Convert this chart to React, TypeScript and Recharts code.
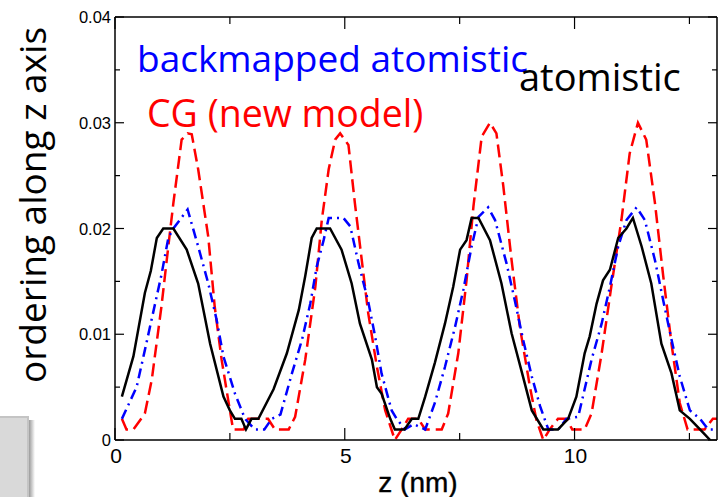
import React from "react";
import { Line, LineChart, XAxis, YAxis } from "recharts";

const W = 724;
const H = 497;

// atomistic (black solid)
const atomZ = [
  0.15, 0.4, 0.65, 0.78, 0.91, 1.05, 1.27, 1.56, 1.81, 2.07, 2.36, 2.5, 2.61, 2.75, 2.85, 2.97, 3.12, 3.45,
  3.74, 4.0, 4.14, 4.28, 4.39, 4.68, 4.93, 5.15, 5.33, 5.59, 5.7, 5.8, 5.99, 6.09, 6.3, 6.46, 6.6, 6.75,
  6.96, 7.18, 7.36, 7.51, 7.65, 7.76, 7.91, 8.16, 8.41, 8.63, 8.86, 9.07, 9.32, 9.64, 9.86, 10.04, 10.22,
  10.33, 10.48, 10.62, 10.77, 10.95, 11.13, 11.27, 11.46, 11.67, 11.89, 12.11, 12.29, 12.51, 12.73, 12.95,
];
const atomVal = [
  0.0041, 0.0079, 0.0139, 0.016, 0.0191, 0.02, 0.02, 0.018, 0.0148, 0.0091, 0.0041, 0.0028, 0.002, 0.002,
  0.001, 0.002, 0.002, 0.0048, 0.0082, 0.0123, 0.0155, 0.0191, 0.02, 0.02, 0.018, 0.0148, 0.011, 0.0076,
  0.005, 0.0044, 0.002, 0.001, 0.001, 0.002, 0.002, 0.0041, 0.0073, 0.011, 0.0145, 0.018, 0.0189, 0.021,
  0.021, 0.0189, 0.0148, 0.0101, 0.0063, 0.0028, 0.001, 0.001, 0.002, 0.0041, 0.0082, 0.0098, 0.0129,
  0.0151, 0.0161, 0.0191, 0.02, 0.021, 0.0183, 0.0148, 0.0091, 0.0063, 0.0028, 0.002, 0.001, 0.0,
];

// backmapped atomistic (blue dash-dot)
const backZ = [
  0.15, 0.47, 0.65, 1.01, 1.16, 1.27, 1.58, 1.81, 2.03, 2.21, 2.36, 2.61, 2.83, 3.04, 3.25, 3.41, 3.6, 3.85,
  4.07, 4.25, 4.39, 4.54, 4.65, 4.97, 5.12, 5.3, 5.51, 5.66, 5.8, 6.02, 6.13, 6.31, 6.5, 6.75, 6.96, 7.18,
  7.4, 7.58, 7.76, 7.91, 8.12, 8.27, 8.52, 8.7, 8.88, 9.07, 9.25, 9.43, 9.65, 9.82, 10.08, 10.37, 10.59,
  10.77, 10.95, 11.13, 11.35, 11.53, 11.75, 11.93, 12.11, 12.29, 12.51, 12.73, 12.91, 13.05,
];
const backVal = [
  0.002, 0.005, 0.0085, 0.0156, 0.0191, 0.02, 0.0218, 0.0183, 0.0148, 0.0114, 0.0079, 0.0044, 0.002, 0.001,
  0.001, 0.002, 0.0024, 0.0063, 0.0095, 0.0129, 0.0164, 0.0189, 0.021, 0.021, 0.0202, 0.0167, 0.0131,
  0.0098, 0.0063, 0.0028, 0.002, 0.001, 0.0015, 0.001, 0.0035, 0.0069, 0.0107, 0.0142, 0.0183, 0.0211,
  0.022, 0.0208, 0.0167, 0.0132, 0.0095, 0.006, 0.0032, 0.001, 0.001, 0.002, 0.0022, 0.0076, 0.011, 0.0145,
  0.0183, 0.0208, 0.022, 0.0208, 0.017, 0.0132, 0.0095, 0.006, 0.0028, 0.002, 0.001, 0.001,
];

// CG new model (red dashed)
const cgZ = [
  0.15, 0.25, 0.4, 0.65, 0.8, 1.01, 1.16, 1.27, 1.45, 1.58, 1.67, 1.81, 2.03, 2.17, 2.32, 2.5, 2.57, 2.8,
  2.9, 3.33, 3.48, 3.78, 3.92, 4.14, 4.36, 4.5, 4.65, 4.79, 4.9, 5.08, 5.22, 5.37, 5.51, 5.7, 5.88, 6.09,
  6.24, 6.38, 6.6, 6.75, 7.11, 7.25, 7.47, 7.65, 7.8, 7.98, 8.16, 8.3, 8.45, 8.63, 8.81, 9.03, 9.17, 9.32,
  9.46, 9.64, 9.82, 9.95, 10.22, 10.37, 10.59, 10.8, 11.02, 11.2, 11.38, 11.56, 11.75, 11.93, 12.11, 12.29,
  12.46, 12.83, 13.01, 13.1,
];
const cgVal = [
  0.002, 0.001, 0.001, 0.0025, 0.0057, 0.0126, 0.0183, 0.0224, 0.0284, 0.029, 0.0289, 0.0256, 0.0192,
  0.0126, 0.0076, 0.0028, 0.001, 0.001, 0.002, 0.002, 0.001, 0.001, 0.0022, 0.0076, 0.0145, 0.0208, 0.0256,
  0.0284, 0.029, 0.0279, 0.0224, 0.017, 0.012, 0.0069, 0.0028, 0.0, 0.001, 0.002, 0.002, 0.001, 0.001,
  0.0025, 0.0082, 0.0151, 0.0221, 0.0287, 0.03, 0.029, 0.024, 0.017, 0.0107, 0.005, 0.0019, 0.0, 0.001,
  0.002, 0.002, 0.001, 0.001, 0.0025, 0.0082, 0.0145, 0.0208, 0.0271, 0.03, 0.0284, 0.0224, 0.0155, 0.0091,
  0.0035, 0.001, 0.001, 0.002, 0.002,
];

const xTicks = [0, 2.5, 5, 7.5, 10, 12.5];
const yTicks = [0, 0.005, 0.01, 0.015, 0.02, 0.025, 0.03, 0.035, 0.04];

const toPoints = (zs: number[], vs: number[]) => zs.map((z, i) => ({ z, v: vs[i] }));

const atomData = toPoints(atomZ, atomVal);
const backData = toPoints(backZ, backVal);
const cgData = toPoints(cgZ, cgVal);

const tickFont = "'Liberation Sans', Arial, sans-serif";
const textFont = "'Open Sans', 'Noto Sans', sans-serif";

const isMajorX = (v: number) => v % 5 === 0;
const isMajorY = (v: number) => Math.abs(v * 100 - Math.round(v * 100)) < 1e-6;

function BottomTick(props: any) {
  const { x, y, payload } = props;
  const major = isMajorX(payload.value);
  return (
    <g>
      <line x1={x} x2={x} y1={y} y2={y - (major ? 12 : 7)} stroke="#000" strokeWidth={1.2} />
      {major && (
        <text x={x + 1} y={y + 23} textAnchor="middle" fontSize={21} fontFamily={tickFont} fill="#000">
          {payload.value}
        </text>
      )}
    </g>
  );
}

function TopTick(props: any) {
  const { x, y, payload } = props;
  const major = isMajorX(payload.value);
  return <line x1={x} x2={x} y1={y} y2={y + (major ? 12 : 7)} stroke="#000" strokeWidth={1.2} />;
}

function LeftTick(props: any) {
  const { x, y, payload } = props;
  const major = isMajorY(payload.value);
  const label = payload.value === 0 ? "0" : payload.value.toFixed(2);
  return (
    <g>
      <line x1={x} x2={x + (major ? 9 : 5)} y1={y} y2={y} stroke="#000" strokeWidth={1.2} />
      {major && (
        <text x={x - 4} y={y + 6} textAnchor="end" fontSize={16.5} fontFamily={tickFont} fill="#000">
          {label}
        </text>
      )}
    </g>
  );
}

function RightTick(props: any) {
  const { x, y, payload } = props;
  const major = isMajorY(payload.value);
  return <line x1={x} x2={x - (major ? 9 : 5)} y1={y} y2={y} stroke="#000" strokeWidth={1.2} />;
}

const axisLine = { stroke: "#000", strokeWidth: 1.5 };

export default function App() {
  return (
    <div style={{ position: "absolute", left: 0, top: 0, width: W, height: H, background: "#fff" }}>
      <LineChart width={W} height={H} margin={{ top: 16, right: 6, bottom: 56, left: 114 }}>
        <XAxis
          dataKey="z"
          type="number"
          domain={[0, 13.1]}
          ticks={xTicks}
          interval={0}
          height={1}
          tickSize={0}
          tickMargin={0}
          tickLine={false}
          axisLine={axisLine}
          tick={<BottomTick />}
          allowDataOverflow
        />
        <XAxis
          xAxisId="top"
          orientation="top"
          dataKey="z"
          type="number"
          domain={[0, 13.1]}
          ticks={xTicks}
          interval={0}
          height={1}
          tickSize={0}
          tickMargin={0}
          tickLine={false}
          axisLine={axisLine}
          tick={<TopTick />}
          allowDataOverflow
        />
        <YAxis
          type="number"
          domain={[0, 0.04]}
          ticks={yTicks}
          interval={0}
          width={1}
          tickSize={0}
          tickMargin={0}
          tickLine={false}
          axisLine={axisLine}
          tick={<LeftTick />}
          allowDataOverflow
        />
        <YAxis
          yAxisId="right"
          orientation="right"
          type="number"
          domain={[0, 0.04]}
          ticks={yTicks}
          interval={0}
          width={1}
          tickSize={0}
          tickMargin={0}
          tickLine={false}
          axisLine={axisLine}
          tick={<RightTick />}
          allowDataOverflow
        />
        <Line
          data={cgData}
          dataKey="v"
          type="linear"
          stroke="#ff0000"
          strokeWidth={2.5}
          strokeDasharray="13 6"
          dot={false}
          isAnimationActive={false}
        />
        <Line
          data={backData}
          dataKey="v"
          type="linear"
          stroke="#0000ff"
          strokeWidth={2.5}
          strokeDasharray="10 5 2 5"
          dot={false}
          isAnimationActive={false}
        />
        <Line
          data={atomData}
          dataKey="v"
          type="linear"
          stroke="#000000"
          strokeWidth={2.5}
          dot={false}
          isAnimationActive={false}
        />
      </LineChart>
      <svg
        width={W}
        height={H}
        style={{ position: "absolute", left: 0, top: 0, pointerEvents: "none" }}
      >
        <defs>
          <linearGradient id="shadow" x1="0" x2="1" y1="0" y2="0">
            <stop offset="0" stopColor="#9a9a9a" />
            <stop offset="1" stopColor="#ffffff" />
          </linearGradient>
        </defs>
        <rect x={29} y={420} width={6} height={77} fill="url(#shadow)" />
        <rect x={-2} y={417} width={30} height={82} fill="#d9d9d9" stroke="#c4c4c4" strokeWidth={2} />
        <text x={137} y={72} fontSize={37} fontFamily={textFont} fill="#0000ff">
          backmapped atomistic
        </text>
        <text x={147} y={127} fontSize={37.5} fontFamily={textFont} fill="#ff0000">
          CG (new model)
        </text>
        <text x={519} y={91} fontSize={38} fontFamily={textFont} fill="#000">
          atomistic
        </text>
        <text
          transform="translate(46 205) rotate(-90)"
          textAnchor="middle"
          fontSize={37}
          fontFamily={textFont}
          fill="#000"
        >
          ordering along z axis
        </text>
        <text x={418} y={492} textAnchor="middle" fontSize={28} fontFamily={tickFont} fill="#000" stroke="#000" strokeWidth={0.4}>
          z (nm)
        </text>
      </svg>
    </div>
  );
}
